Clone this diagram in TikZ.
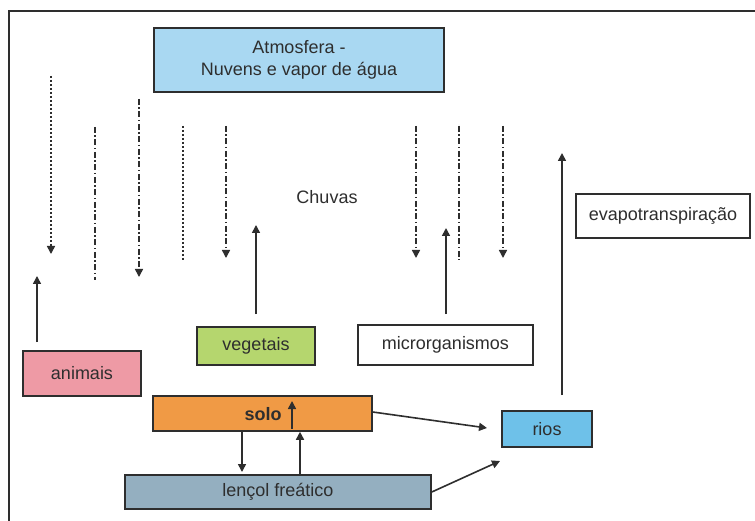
\documentclass[tikz,border=0pt]{standalone}
\usepackage{fontspec}
\setmainfont{Liberation Sans}
\usetikzlibrary{arrows.meta,calc}
\definecolor{atmc}{HTML}{A9D8F2}
\definecolor{anic}{HTML}{EE9AA5}
\definecolor{vegc}{HTML}{B5D66E}
\definecolor{soloc}{HTML}{F09A45}
\definecolor{lenc}{HTML}{94AFC0}
\definecolor{rioc}{HTML}{6EC1E9}
\definecolor{inkc}{HTML}{2E2E2E}
\tikzset{
  box/.style={draw=inkc, line width=1.6pt, rectangle, inner sep=0pt, text=inkc,
    font=\fontsize{18}{22}\selectfont, align=center},
  arr/.style={draw=inkc, line width=1.6pt, -{Triangle[width=8pt,length=8pt]}},
  dotln/.style={draw=inkc, line width=1.5pt, dash pattern=on 2pt off 2pt},
  dashdot/.style={draw=inkc, line width=1.5pt, dash pattern=on 6pt off 2.5pt on 1.5pt off 2.5pt},
  tip/.style={-{Triangle[width=8pt,length=8pt]}}
}
\begin{document}
\begin{tikzpicture}[x=1pt,y=-1pt]
\useasboundingbox (0,0) rectangle (755,521);
\fill[white] (0,0) rectangle (755,521);
% frame
\draw[draw=inkc, line width=2.2pt] (9,521) -- (9,11) -- (755,11);

% boxes
\node[box, fill=atmc, minimum width=290pt, minimum height=64pt] (atm) at (299,60) {Atmosfera -\\Nuvens e vapor de água};
\node[box, fill=anic, minimum width=118pt, minimum height=45pt] (animais) at (82,373.5) {animais};
\node[box, fill=vegc, minimum width=118pt, minimum height=38pt] (veg) at (256,346) {vegetais};
\node[box, fill=white, minimum width=175pt, minimum height=40pt] (micro) at (445.5,345) {microrganismos};
\node[box, fill=soloc, minimum width=219pt, minimum height=35pt] (solo) at (262.5,413.5) {};
\node[font=\fontsize{18}{22}\selectfont\bfseries, text=inkc] (solotxt) at (263,414) {solo};
\node[box, fill=lenc, minimum width=306pt, minimum height=34pt] (lencol) at (278,492) {lençol freático};
\node[box, fill=rioc, minimum width=90pt, minimum height=36pt] (rios) at (547,429) {rios};
\node[box, fill=white, minimum width=174pt, minimum height=44pt] (evapo) at (663,216) {evapotranspiração};
\node[font=\fontsize{18}{22}\selectfont, text=inkc] (chuvas) at (327,197) {Chuvas};

% rain lines (free ends as coordinates)
\coordinate (r1a) at (51,76);   \coordinate (r1b) at (51,254);
\coordinate (r2a) at (95,127);  \coordinate (r2b) at (95,280);
\coordinate (r3a) at (139,99);  \coordinate (r3b) at (139,277);
\coordinate (r4a) at (183,126); \coordinate (r4b) at (183,260);
\coordinate (r5a) at (226,126); \coordinate (r5b) at (226,258);
\coordinate (r6a) at (416,126); \coordinate (r6b) at (416,258);
\coordinate (r7a) at (459,126); \coordinate (r7b) at (459,260);
\coordinate (r8a) at (503,126); \coordinate (r8b) at (503,258);
\draw[dotln, tip] (r1a) -- (r1b);
\draw[dashdot] (r2a) -- (r2b);
\draw[dashdot, tip] (r3a) -- (r3b);
\draw[dotln] (r4a) -- (r4b);
\draw[dashdot, tip] (r5a) -- (r5b);
\draw[dashdot, tip] (r6a) -- (r6b);
\draw[dashdot] (r7a) -- (r7b);
\draw[dashdot, tip] (r8a) -- (r8b);

% upward arrows
\coordinate (up1) at (37,276);
\coordinate (up2) at (256,225);
\coordinate (up3) at (446,228);
\coordinate (up4) at (562,153);
\draw[arr, shorten <=8pt] (animais.north -| up1) -- (up1);
\draw[arr, shorten <=12pt] (veg.north -| up2) -- (up2);
\draw[arr, shorten <=10pt] (micro.north -| up3) -- (up3);
\draw[arr, shorten <=15pt] (rios.north -| up4) -- (up4);

% solo / lencol
\coordinate (sin) at (292,401);
\draw[arr, shorten <=3pt] (solo.south -| sin) -- (sin);
\coordinate (s2l) at (242,472);
\draw[arr] (solo.south -| s2l) -- (s2l);
\coordinate (l2s) at (300,0);
\draw[arr] (lencol.north -| l2s) -- (solo.south -| l2s);
\coordinate (sr) at (487,428);
\draw[arr] ($(solo.east)+(0,-1.5)$) -- (sr);
\coordinate (lr) at (500,461);
\draw[arr] (lencol.east) -- (lr);
\end{tikzpicture}
\end{document}
